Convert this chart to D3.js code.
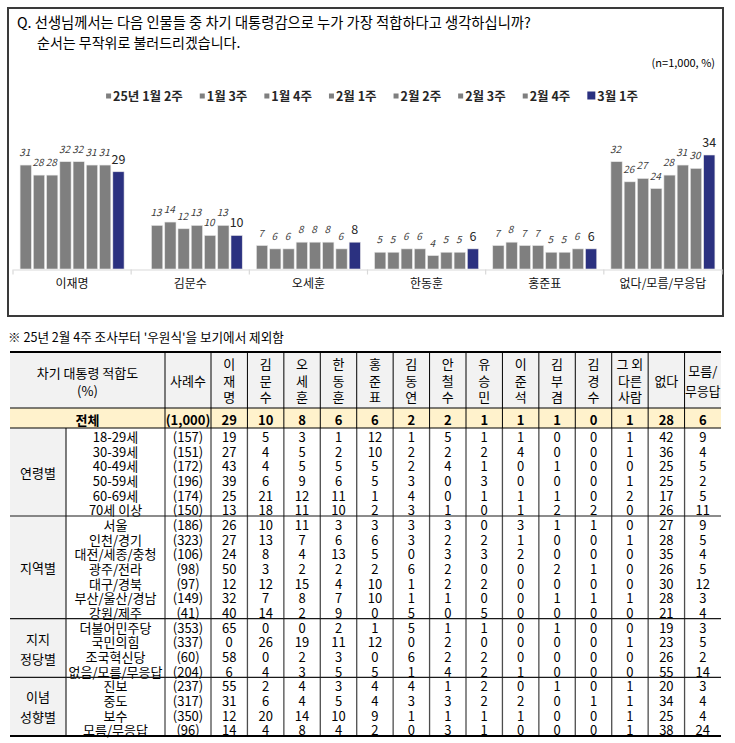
<!DOCTYPE html>
<html><head><meta charset="utf-8">
<script src="https://cdn.jsdelivr.net/npm/d3@7"></script>
<style>
body{margin:0;background:#fff;}
svg{display:block;font-family:"Noto Sans CJK KR","Noto Sans",sans-serif;}
</style>
</head><body>
<svg id="c" width="735" height="743"></svg>
<script>
// ---------- chart data ----------
const weeks = ["25년 1월 2주","1월 3주","1월 4주","2월 1주","2월 2주","2월 3주","2월 4주","3월 1주"];
const candidates = ["이재명","김문수","오세훈","한동훈","홍준표","없다/모름/무응답"];
const leeJaemyung = [31,28,28,32,32,31,31,29];
const kimMoonsoo  = [null,13,14,12,13,10,13,10];
const ohSehoon    = [7,6,6,8,8,8,6,8];
const hanDonghoon = [5,5,6,6,4,5,5,6];
const hongJunpyo  = [7,8,7,7,5,5,6,6];
const noneUnknown = [32,26,27,24,28,31,30,34];
const seriesByCandidate = [leeJaemyung,kimMoonsoo,ohSehoon,hanDonghoon,hongJunpyo,noneUnknown];

const titleLines = ["Q. 선생님께서는 다음 인물들 중 차기 대통령감으로 누가 가장 적합하다고 생각하십니까?","순서는 무작위로 불러드리겠습니다."];
const unitNote = "(n=1,000,  %)";
const footNote = "※ 25년 2월 4주 조사부터 '우원식'을 보기에서 제외함";

// ---------- table data ----------
const tableColumns = ["이재명","김문수","오세훈","한동훈","홍준표","김동연","안철수","유승민","이준석","김부겸","김경수","그 외 다른 사람","없다","모름/무응답"];
const columnHeaderLines = [["이","재","명"],["김","문","수"],["오","세","훈"],["한","동","훈"],["홍","준","표"],["김","동","연"],["안","철","수"],["유","승","민"],["이","준","석"],["김","부","겸"],["김","경","수"],["그 외","다른","사람"],["없다"],["모름/","무응답"]];
const tableTitle = ["차기 대통령 적합도","(%)"];
const sampleHeader = "사례수";
const totalLabel = "전체";
const totalSample = "(1,000)";
const totalRow = [29,10,8,6,6,2,2,1,1,1,0,1,28,6];
const groupNames = [["연령별"],["지역별"],["지지","정당별"],["이념","성향별"]];
const groupSizes = [6,7,4,4];
const rowLabels = ["18-29세","30-39세","40-49세","50-59세","60-69세","70세 이상",
  "서울","인천/경기","대전/세종/충청","광주/전라","대구/경북","부산/울산/경남","강원/제주",
  "더불어민주당","국민의힘","조국혁신당","없음/모름/무응답",
  "진보","중도","보수","모름/무응답"];
const sampleSizes = [157,151,172,196,174,150,186,323,106,98,97,149,41,353,337,60,204,237,317,350,96];
const tableValues = [
  [19,5,3,1,12,1,5,1,1,0,0,1,42,9],
  [27,4,5,2,10,2,2,2,4,0,0,1,36,4],
  [43,4,5,5,5,2,4,1,0,1,0,0,25,5],
  [39,6,9,6,5,3,0,3,0,0,0,1,25,2],
  [25,21,12,11,1,4,0,1,1,1,0,2,17,5],
  [13,18,11,10,2,3,1,0,1,2,2,0,26,11],
  [26,10,11,3,3,3,3,0,3,1,1,0,27,9],
  [27,13,7,6,6,3,2,2,1,0,0,1,28,5],
  [24,8,4,13,5,0,3,3,2,0,0,0,35,4],
  [50,3,2,2,2,6,2,0,0,2,1,0,26,5],
  [12,12,15,4,10,1,2,2,0,0,0,0,30,12],
  [32,7,8,7,10,1,1,0,0,1,1,1,28,3],
  [40,14,2,9,0,5,0,5,0,0,0,0,21,4],
  [65,0,0,2,1,5,1,1,0,1,0,0,19,3],
  [0,26,19,11,12,0,2,0,0,0,0,1,23,5],
  [58,0,2,3,0,6,2,2,0,0,0,0,26,2],
  [6,4,3,5,5,1,4,2,1,0,0,0,55,14],
  [55,2,4,3,4,4,1,2,0,1,0,1,20,3],
  [31,6,4,5,4,3,3,2,2,0,1,1,34,4],
  [12,20,14,10,9,1,1,1,1,0,0,1,25,4],
  [14,4,8,4,2,0,3,1,0,0,0,1,38,24]
];

// ---------- styles ----------
const GRAY = "#7f7f7f", NAVY = "#2b3180";
const svg = d3.select("#c");

// ===== chart box =====
svg.append("rect").attr("x",8).attr("y",8).attr("width",715).attr("height",308)
  .attr("fill","#fff").attr("stroke","#3a3a3a").attr("stroke-width",2);

svg.append("text").attr("x",17).attr("y",28).attr("font-size",14.3).attr("fill","#000").text(titleLines[0]);
svg.append("text").attr("x",37).attr("y",48).attr("font-size",14).attr("fill","#000").text(titleLines[1]);
svg.append("text").attr("x",715).attr("y",67).attr("text-anchor","end").attr("font-size",11).attr("fill","#000").text(unitNote);

// legend
const color = w => w === weeks[weeks.length-1] ? NAVY : GRAY;
const lg = svg.append("g").attr("font-size",12.5).attr("font-weight","bold");
let lx = 0; const items = [];
weeks.forEach((w,i)=>{
  const g = lg.append("g");
  const last = i===weeks.length-1;
  const sz = last?8:5;
  g.append("rect").attr("x",0).attr("y",last? -9.5 : -7.5).attr("width",sz).attr("height",sz).attr("fill",color(w));
  const t = g.append("text").attr("x",sz+2).attr("y",0).attr("fill","#262626").text(w);
  const wdt = sz+2+t.node().getComputedTextLength();
  items.push({g,wdt});
});
const gap = 17;
const totalW = d3.sum(items,d=>d.wdt)+gap*(items.length-1);
lx = 372 - totalW/2;
items.forEach(it=>{ it.g.attr("transform",`translate(${lx},101)`); lx += it.wdt+gap; });

// scales
const x0 = d3.scaleBand().domain(candidates).range([13,722]);
const x1 = d3.scaleBand().domain(weeks).range([0,104]).paddingInner(0.15).paddingOuter(0);
const y = d3.scaleLinear().domain([0,34]).range([269,155]);
const off = (x0.bandwidth()-104)/2;

const groups = svg.append("g").selectAll("g").data(candidates).join("g")
  .attr("transform",c=>`translate(${x0(c)+off},0)`);
groups.each(function(c,ci){
  const g = d3.select(this);
  const vals = weeks.map((w,i)=>({w,v:seriesByCandidate[ci][i],last:i===weeks.length-1})).filter(d=>d.v!=null);
  g.selectAll("rect").data(vals).join("rect")
    .attr("x",d=>x1(d.w)).attr("width",x1.bandwidth())
    .attr("y",d=>y(d.v)).attr("height",d=>y(0)-y(d.v))
    .attr("fill",d=>color(d.w)).attr("stroke","#e6e6e6").attr("stroke-width",0.6);
  g.selectAll("text").data(vals).join("text")
    .attr("x",d=>x1(d.w)+x1.bandwidth()/2 + (d.last?0:-1))
    .attr("y",d=>y(d.v)-(d.last?8:9))
    .attr("text-anchor","middle")
    .attr("font-size",d=>d.last?12.5:10)
    .attr("font-style",d=>d.last?"normal":"italic")
    .attr("fill",d=>d.last?"#262626":"#404040")
    .text(d=>d.v);
});

// axis
const ax = svg.append("g").attr("transform",`translate(0,${y(0)+0.5})`)
  .call(d3.axisBottom(x0).tickSize(0).tickPadding(0));
ax.select(".domain").attr("stroke","#d9d9d9").attr("stroke-width",1.2);
ax.selectAll(".tick text").attr("y",18).attr("dy",0).attr("font-size",12)
  .attr("font-family","Noto Sans CJK KR").attr("fill","#111");
const bounds = candidates.map(c=>x0(c)).concat([x0.range()[1]]);
ax.selectAll("line.b").data(bounds).join("line").attr("class","b")
  .attr("x1",d=>d).attr("x2",d=>d).attr("y1",0).attr("y2",5).attr("stroke","#d9d9d9").attr("stroke-width",1.2);

// footnote
svg.append("text").attr("x",8).attr("y",342).attr("font-size",12.6).attr("fill","#000").text(footNote);

// ===== table =====
const T = {left:10, grpRight:66, labelRight:165, sampleRight:211, right:721,
  top:352, headBottom:408, totalBottom:428, rowH:(736-428)/21};
const tx = d3.scaleBand().domain(tableColumns).range([T.sampleRight,T.right]);
const rowY = d3.scaleBand().domain(d3.range(rowLabels.length)).range([T.totalBottom, T.totalBottom+T.rowH*rowLabels.length]);
const tb = svg.append("g").attr("font-size",13).attr("fill","#000");

// backgrounds
tb.append("rect").attr("x",T.left).attr("y",T.top).attr("width",T.right-T.left).attr("height",T.headBottom-T.top).attr("fill","#f2f2f2");
tb.append("rect").attr("x",T.left).attr("y",T.headBottom).attr("width",T.right-T.left).attr("height",T.totalBottom-T.headBottom).attr("fill","#fff2cc");
tb.append("rect").attr("x",T.left).attr("y",T.totalBottom).attr("width",T.grpRight-T.left).attr("height",rowY.range()[1]-T.totalBottom).attr("fill","#f2f2f2");

// header text
const hc = 380;
tableTitle.forEach((t,i)=>tb.append("text").attr("x",(T.left+T.labelRight)/2).attr("y",372+i*18)
  .attr("text-anchor","middle").attr("dominant-baseline","central").text(t));
tb.append("text").attr("x",(T.labelRight+T.sampleRight)/2).attr("y",hc).attr("text-anchor","middle")
  .attr("dominant-baseline","central").text(sampleHeader);
tableColumns.forEach((c,ci)=>{
  const lines = columnHeaderLines[ci];
  const sp = lines.length===2?20:16.5;
  lines.forEach((ln,li)=>{
    const t = tb.append("text").attr("x",tx(c)+tx.bandwidth()/2).attr("y",hc+(li-(lines.length-1)/2)*sp)
      .attr("text-anchor","middle").attr("dominant-baseline","central").text(ln);
    const w = t.node().getComputedTextLength();
    if (w > tx.bandwidth()-1) t.attr("font-size",13*(tx.bandwidth()-1)/w);
  });
});

// total row
const totC = (T.headBottom+T.totalBottom)/2+1;
const tot = tb.append("g").attr("font-weight","bold");
tot.append("text").attr("x",(T.left+T.labelRight)/2).attr("y",totC).attr("text-anchor","middle").attr("dominant-baseline","central").text(totalLabel);
tot.append("text").attr("x",(T.labelRight+T.sampleRight)/2).attr("y",totC).attr("text-anchor","middle").attr("dominant-baseline","central").text(totalSample);
tableColumns.forEach((c,ci)=>tot.append("text").attr("x",tx(c)+tx.bandwidth()/2).attr("y",totC)
  .attr("text-anchor","middle").attr("dominant-baseline","central").text(totalRow[ci]));

// body rows
rowLabels.forEach((lab,ri)=>{
  const cy = rowY(ri)+T.rowH/2+1;
  const lt = tb.append("text").attr("x",(T.grpRight+T.labelRight)/2).attr("y",cy).attr("text-anchor","middle").attr("dominant-baseline","central").text(lab);
  const w = lt.node().getComputedTextLength();
  if (w > 96) lt.attr("font-size",13*96/w);
  tb.append("text").attr("x",(T.labelRight+T.sampleRight)/2).attr("y",cy).attr("text-anchor","middle").attr("dominant-baseline","central").text(`(${sampleSizes[ri]})`);
  tableColumns.forEach((c,ci)=>tb.append("text").attr("x",tx(c)+tx.bandwidth()/2).attr("y",cy)
    .attr("text-anchor","middle").attr("dominant-baseline","central").text(tableValues[ri][ci]));
});

// group labels + section lines
let start = 0;
const sectionLines = [];
groupNames.forEach((gn,gi)=>{
  const y0 = rowY(start), y1 = rowY(start+groupSizes[gi]-1)+T.rowH;
  const c = (y0+y1)/2;
  gn.forEach((ln,li)=>tb.append("text").attr("x",(T.left+T.grpRight)/2).attr("y",c+(li-(gn.length-1)/2)*20)
    .attr("text-anchor","middle").attr("dominant-baseline","central").text(ln));
  if (gi>0) sectionLines.push(y0);
  start += groupSizes[gi];
});
const bodyBottom = rowY.range()[1];

// vertical lines
const vHead = [T.labelRight,T.sampleRight].concat(tableColumns.slice(1).map(c=>tx(c)));
vHead.forEach(x=>{
  tb.append("line").attr("x1",x).attr("x2",x).attr("y1",T.top).attr("y2",T.totalBottom).attr("stroke","#000").attr("stroke-width",1);
  tb.append("line").attr("x1",x).attr("x2",x).attr("y1",T.totalBottom).attr("y2",bodyBottom).attr("stroke","#4d4d4d").attr("stroke-width",1.3);
});
tb.append("line").attr("x1",T.grpRight).attr("x2",T.grpRight).attr("y1",T.totalBottom).attr("y2",bodyBottom).attr("stroke","#000").attr("stroke-width",1);

// horizontal lines
const hl = (yy,w,col)=>tb.append("line").attr("x1",T.left).attr("x2",T.right).attr("y1",yy).attr("y2",yy).attr("stroke",col||"#000").attr("stroke-width",w);
hl(T.top,2); hl(T.headBottom,1.2); hl(T.totalBottom,1.2);
sectionLines.forEach(yy=>hl(yy,1.2,"#1a1a1a"));
hl(bodyBottom,2);
</script>
</body></html>
